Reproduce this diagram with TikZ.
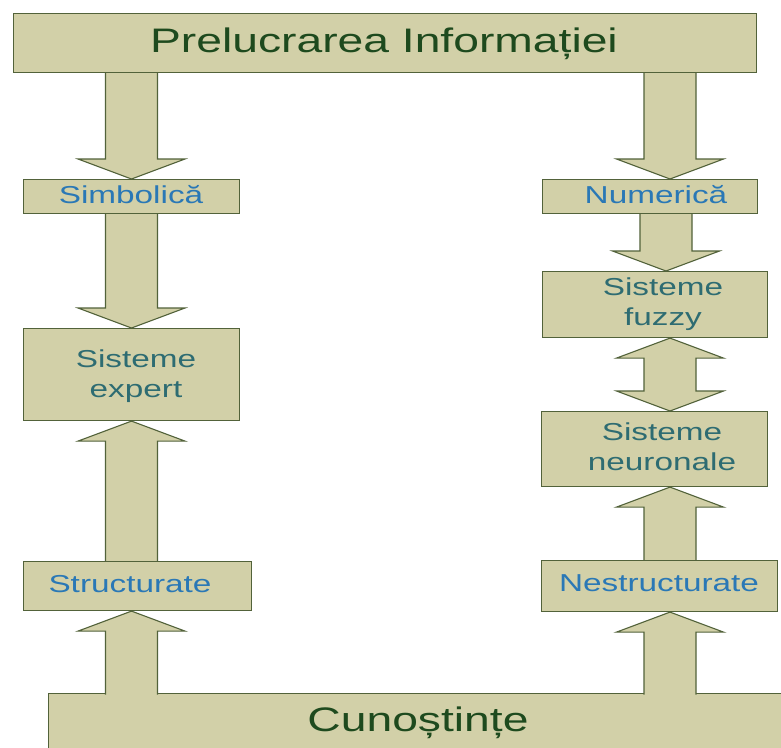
\documentclass[tikz,border=0pt]{standalone}
\usepackage{fontspec}
\setmainfont{Liberation Sans}
\newfontfamily\widefont[FakeStretch=1.36]{Liberation Sans}
\usetikzlibrary{calc}
\pgfdeclarelayer{back}
\pgfdeclarelayer{arrowlayer}
\pgfsetlayers{back,arrowlayer,main}
\definecolor{boxfill}{HTML}{D2D0A8}
\definecolor{boxline}{HTML}{52623A}
\definecolor{darkgreen}{HTML}{1E4A1E}
\definecolor{lblblue}{HTML}{2A78B6}
\definecolor{lblteal}{HTML}{2E6C72}
\tikzset{
  box/.style={draw=boxline, fill=boxfill, line width=1.1pt, anchor=north west, inner sep=0pt},
  lbl/.style={inner sep=0pt, align=center, font=\widefont\fontsize{24.5}{30}\selectfont, text height=17.5pt, text depth=0pt},
  biglbl/.style={inner sep=0pt, align=center, font=\widefont\fontsize{34}{40}\selectfont, text=darkgreen, text height=24.5pt, text depth=0pt},
  bluelbl/.style={lbl, text=lblblue},
  teallbl/.style={lbl, text=lblteal, text height=47.5pt, text depth=0pt},
  blk/.style={draw=boxline, fill=boxfill, line width=1.1pt, line join=miter},
}
% #1 column coordinate, #2 start anchor, #3 tip anchor, #4 sign (1 = downward, -1 = upward), #5 overlap into source
\newcommand\blockarr[5]{%
  \coordinate (S) at (#2 -| #1);
  \coordinate (T) at (#3 -| #1);
  \draw[blk] ($(S)+({-26},{-(#4)*(#5)})$) -- ($(T)+({-26},{-20*(#4)})$) -- ($(T)+({-53.5},{-20*(#4)})$)
    -- (T) -- ($(T)+({53.5},{-20*(#4)})$) -- ($(T)+({26},{-20*(#4)})$) -- ($(S)+({26},{-(#4)*(#5)})$);
}
\begin{document}
\begin{tikzpicture}[x=1pt,y=-1pt]
\useasboundingbox (0,0) rectangle (781,747);
\clip (0,0) rectangle (781,747);
\begin{pgfonlayer}{back}
\fill[white] (0,0) rectangle (781,747);
\end{pgfonlayer}

\coordinate (colL) at (131.5,0);
\coordinate (colR) at (670,0);
\coordinate (colR2) at (666,0);

% boxes
\node[box, minimum width=743pt, minimum height=59pt] (top) at (13,13) {};
\node[box, minimum width=216pt, minimum height=34pt] (simb) at (23,179) {};
\node[box, minimum width=216pt, minimum height=92pt] (expert) at (23,328) {};
\node[box, minimum width=228pt, minimum height=49pt] (struct) at (23,561) {};
\node[box, minimum width=215pt, minimum height=34pt] (numer) at (542,179) {};
\node[box, minimum width=225pt, minimum height=66pt] (fuzzy) at (542,271) {};
\node[box, minimum width=226pt, minimum height=75pt] (neur) at (541,411) {};
\node[box, minimum width=236pt, minimum height=51pt] (nestr) at (541,560) {};
\node[box, minimum width=745pt, minimum height=70pt] (cuno) at (48,693) {};

% block arrows (behind the boxes)
\begin{pgfonlayer}{arrowlayer}
\blockarr{colL}{top.south}{simb.north}{1}{0}
\blockarr{colL}{simb.south}{expert.north}{1}{0}
\blockarr{colL}{struct.north}{expert.south}{-1}{0}
\blockarr{colR}{top.south}{numer.north}{1}{0}
\blockarr{colR2}{numer.south}{fuzzy.north}{1}{0}
\blockarr{colR}{nestr.north}{neur.south}{-1}{0}
% double arrow between fuzzy and neuronale
\coordinate (D1) at (fuzzy.south -| colR);
\coordinate (D2) at (neur.north -| colR);
\draw[blk] (D1) -- ($(D1)+(53.5,20)$) -- ($(D1)+(26,20)$) -- ($(D2)+(26,-20)$) -- ($(D2)+(53.5,-20)$)
  -- (D2) -- ($(D2)+(-53.5,-20)$) -- ($(D2)+(-26,-20)$) -- ($(D1)+(-26,20)$) -- ($(D1)+(-53.5,20)$) -- cycle;
\end{pgfonlayer}
% arrows merging out of the bottom box
\blockarr{colL}{cuno.north}{struct.south}{-1}{1.5}
\blockarr{colR}{cuno.north}{nestr.south}{-1}{1.5}

% labels
\node[biglbl] (topT) at (384,40) {Prelucrarea Informației};
\node[biglbl] (cunoT) at (418,719.5) {Cunoștințe};
\node[bluelbl] (simbT) at (131,195) {Simbolică};
\node[bluelbl] (numerT) at (656,195) {Numerică};
\node[bluelbl] (structT) at (130,584) {Structurate};
\node[bluelbl] (nestrT) at (659,583) {Nestructurate};
\node[teallbl] (expertT) at (136,374) {Sisteme\\expert};
\node[teallbl] (fuzzyT) at (663,302) {Sisteme\\fuzzy};
\node[teallbl] (neurT) at (662,447) {Sisteme\\neuronale};
\end{tikzpicture}
\end{document}
